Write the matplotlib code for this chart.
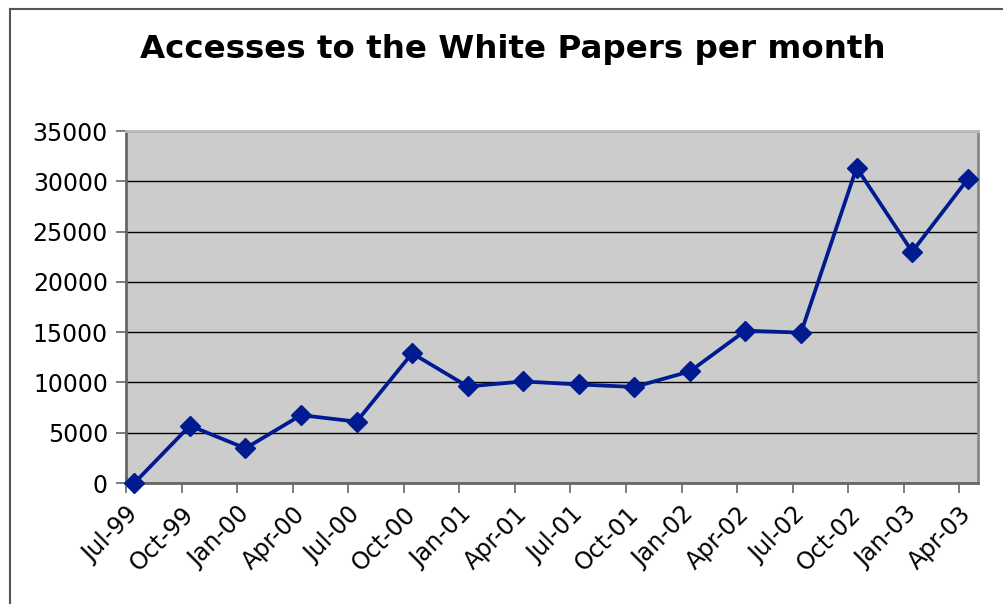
import numpy as np
import matplotlib.pyplot as plt
from matplotlib.lines import Line2D

# quarters shown on the axis, one point per quarter
tick_labels = ['Jul-99', 'Oct-99', 'Jan-00', 'Apr-00', 'Jul-00', 'Oct-00',
               'Jan-01', 'Apr-01', 'Jul-01', 'Oct-01', 'Jan-02', 'Apr-02',
               'Jul-02', 'Oct-02', 'Jan-03', 'Apr-03']
accesses = [0, 5700, 3450, 6750, 6100, 12900, 9600, 10100,
            9800, 9550, 11100, 15150, 14950, 31350, 23000, 30200]

# x in months since Jul-99, points sit mid-month
month_idx = np.arange(len(tick_labels)) * 3
x_pts = month_idx + 0.45

fig = plt.figure(figsize=(10.04, 6.04), dpi=100)
ax = fig.add_axes([0.1255, 0.2003, 0.8485, 0.5828])
ax.set_facecolor('#CCCCCC')

ax.plot(x_pts, accesses, color='#001A90', lw=2.7, marker='D', ms=10,
        clip_on=False, zorder=3)

ax.set_xlim(0, 46)
ax.set_ylim(0, 35000)
ax.set_yticks(np.arange(0, 35001, 5000))
ax.set_xticks(month_idx)
ax.set_xticklabels(tick_labels, rotation=45, ha='right', rotation_mode='anchor')
ax.yaxis.grid(True, color='black', lw=1)
ax.set_axisbelow(True)

ax.tick_params(axis='both', labelsize=17, length=7, width=1.2, color='#666666',
               direction='out')
ax.tick_params(axis='x', pad=7)
ax.tick_params(axis='y', pad=6)
for s in ax.spines.values():
    s.set_color('#888888')
    s.set_linewidth(2)
ax.spines['left'].set_color('#666666')
ax.spines['bottom'].set_color('#666666')
ax.spines['top'].set_color('#BBBBBB')

fig.text(0.511, 0.918, 'Accesses to the White Papers per month',
         ha='center', va='center', fontsize=23.4, fontweight='bold')

# chart frame (cut off on right and bottom)
fig.add_artist(Line2D([10/1004, 10/1004], [0, 1 - 9/604], color='#555555', lw=1.5))
fig.add_artist(Line2D([10/1004, 1], [1 - 9/604, 1 - 9/604], color='#555555', lw=1.5))

fig.savefig('out.png', dpi=100)
